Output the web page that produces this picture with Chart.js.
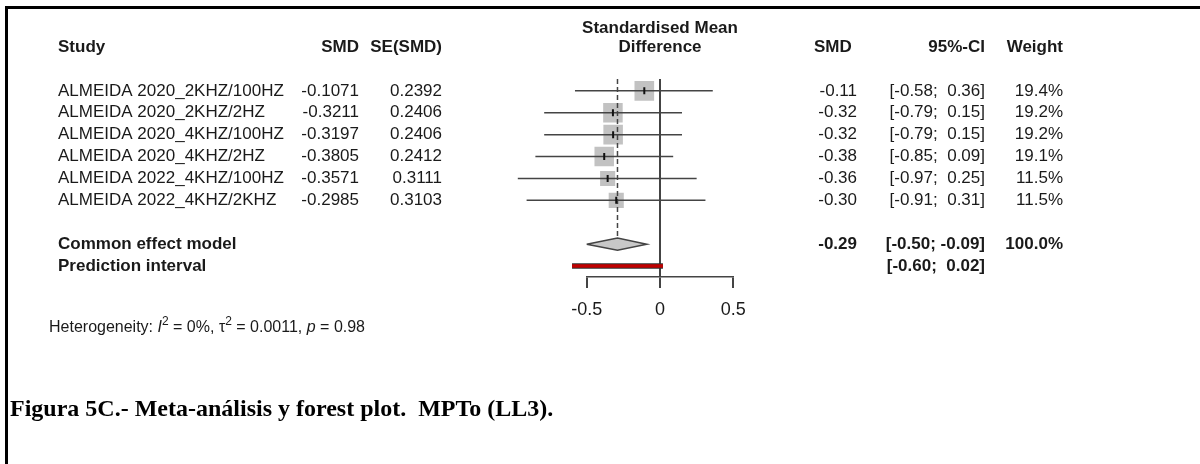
<!DOCTYPE html>
<html>
<head>
<meta charset="utf-8">
<script src="https://cdn.jsdelivr.net/npm/chart.js@4.4.1/dist/chart.umd.min.js"></script>
<style>
  body { margin: 0; background: #fff; }
  #frame { position: absolute; left: 5px; top: 6px; width: 1195px; height: 458px;
           border-top: 3px solid #000; border-left: 3px solid #000; box-sizing: border-box; }
  #wrap { position: absolute; left: 0; top: 0; width: 1200px; height: 464px; }
  #caption { position: absolute; left: 10px; top: 395px; white-space: pre;
             font: bold 24px "Liberation Serif", "Times New Roman", serif; color: #000; }
</style>
</head>
<body>
<div id="frame"></div>
<div id="wrap"><canvas id="forest"></canvas></div>
<div id="caption">Figura 5C.- Meta-análisis y forest plot.  MPTo (LL3).</div>
<script>
// study data
var studies = ["ALMEIDA 2020_2KHZ/100HZ", "ALMEIDA 2020_2KHZ/2HZ", "ALMEIDA 2020_4KHZ/100HZ",
               "ALMEIDA 2020_4KHZ/2HZ", "ALMEIDA 2022_4KHZ/100HZ", "ALMEIDA 2022_4KHZ/2KHZ"];
var smd = [-0.1071, -0.3211, -0.3197, -0.3805, -0.3571, -0.2985];
var seSmd = [0.2392, 0.2406, 0.2406, 0.2412, 0.3111, 0.3103];
var ciLower = [-0.58, -0.79, -0.79, -0.85, -0.97, -0.91];
var ciUpper = [0.36, 0.15, 0.15, 0.09, 0.25, 0.31];
var weights = [19.4, 19.2, 19.2, 19.1, 11.5, 11.5];

// pooled results
var commonEffect = [-0.29, -0.50, -0.09];   // estimate, lower, upper
var predInterval = [-0.60, 0.02];
var xTicks = [-0.5, 0, 0.5];

var nStudies = studies.length;
var commonRow = nStudies + 2;
var predRow = nStudies + 3;

var FONT = '"Liberation Sans", Arial, sans-serif';
var INK = '#1a1a1a';
var LINE = '#444';

function ciText(lo, hi) {
    return "[" + lo.toFixed(2) + ";" + (hi >= 0 ? "  " : " ") + hi.toFixed(2) + "]";
}

// draws the table columns beside the plot
var tablePlugin = {
    id: 'forestTable',
    afterDraw: function (chart) {
        var ctx = chart.ctx;
        var y = chart.scales.y;
        ctx.save();
        ctx.fillStyle = INK;
        ctx.textBaseline = 'middle';

        function put(txt, x, yy, align, bold, size) {
            ctx.font = (bold ? 'bold ' : '') + (size || 17) + 'px ' + FONT;
            ctx.textAlign = align;
            ctx.fillText(txt, x, yy);
        }

        // headers
        put("Study", 58, 47, 'left', true);
        put("SMD", 359, 47, 'right', true);
        put("SE(SMD)", 442, 47, 'right', true);
        put("Standardised Mean", 660, 28, 'center', true);
        put("Difference", 660, 47, 'center', true);
        put("SMD", 814, 47, 'left', true);
        put("95%-CI", 985, 47, 'right', true);
        put("Weight", 1063, 47, 'right', true);

        for (var i = 0; i < nStudies; i++) {
            var yy = y.getPixelForValue(i + 1);
            put(studies[i], 58, yy, 'left', false);
            put(smd[i].toFixed(4), 359, yy, 'right', false);
            put(seSmd[i].toFixed(4), 442, yy, 'right', false);
            put(smd[i].toFixed(2), 857, yy, 'right', false);
            put(ciText(ciLower[i], ciUpper[i]), 985, yy, 'right', false);
            put(weights[i].toFixed(1) + "%", 1063, yy, 'right', false);
        }

        var yc = y.getPixelForValue(commonRow);
        put("Common effect model", 58, yc, 'left', true);
        put(commonEffect[0].toFixed(2), 857, yc, 'right', true);
        put(ciText(commonEffect[1], commonEffect[2]), 985, yc, 'right', true);
        put("100.0%", 1063, yc, 'right', true);

        var yp = y.getPixelForValue(predRow);
        put("Prediction interval", 58, yp, 'left', true);
        put(ciText(predInterval[0], predInterval[1]), 985, yp, 'right', true);

        // heterogeneity line with italic and superscripts
        var parts = [
            ["Heterogeneity: ", "", 0], ["I", "italic ", 0], ["2", "", 1],
            [" = 0%, \u03c4", "", 0], ["2", "", 1], [" = 0.0011, ", "", 0],
            ["p", "italic ", 0], [" = 0.98", "", 0]
        ];
        var hx = 49, hy = 328;
        ctx.textAlign = 'left';
        parts.forEach(function (p) {
            var sup = p[2] === 1;
            ctx.font = p[1] + (sup ? 12 : 16) + 'px ' + FONT;
            ctx.fillText(p[0], hx, sup ? hy - 6 : hy);
            hx += ctx.measureText(p[0]).width;
        });
        ctx.restore();
    }
};

var datasets = [];

// confidence interval lines
studies.forEach(function (s, i) {
    datasets.push({
        data: [{x: ciLower[i], y: i + 1}, {x: ciUpper[i], y: i + 1}],
        showLine: true, borderColor: LINE, borderWidth: 1.5,
        pointRadius: 0, clip: false, order: 2
    });
});

// point estimate marks
datasets.push({
    data: smd.map(function (v, i) { return {x: v, y: i + 1}; }),
    pointStyle: 'line', rotation: 90, pointRadius: 3.5,
    borderColor: '#111', borderWidth: 2, order: 1
});

// weight squares
datasets.push({
    data: smd.map(function (v, i) { return {x: v, y: i + 1}; }),
    pointStyle: 'rect',
    pointRadius: weights.map(function (w) { return 3.15 * Math.sqrt(w); }),
    backgroundColor: '#c2c2c2', borderWidth: 0, order: 4
});

// dashed line at the pooled estimate
datasets.push({
    data: [{x: commonEffect[0], y: 0.46}, {x: commonEffect[0], y: commonRow - 0.28}],
    showLine: true, borderColor: LINE, borderWidth: 1.5, borderDash: [5, 3],
    pointRadius: 0, order: 3
});

// common effect diamond
datasets.push({
    data: [
        {x: commonEffect[1], y: commonRow}, {x: commonEffect[0], y: commonRow - 0.28},
        {x: commonEffect[2], y: commonRow}, {x: commonEffect[0], y: commonRow + 0.28},
        {x: commonEffect[1], y: commonRow}
    ],
    showLine: true, fill: 'shape', backgroundColor: '#c8c8c8',
    borderColor: LINE, borderWidth: 1.5, pointRadius: 0, clip: false, order: 2
});

// prediction interval bar (dark outline + red core)
datasets.push({
    data: [{x: predInterval[0], y: predRow}, {x: predInterval[1], y: predRow}],
    showLine: true, borderColor: '#333', borderWidth: 5.5, borderCapStyle: 'butt',
    pointRadius: 0, clip: false, order: 2
});
datasets.push({
    data: [{x: predInterval[0], y: predRow}, {x: predInterval[1], y: predRow}],
    showLine: true, borderColor: '#c00000', borderWidth: 3.5, borderCapStyle: 'butt',
    pointRadius: 0, clip: false, order: 1
});

var forestChart = new Chart(document.getElementById('forest'), {
    type: 'scatter',
    data: { datasets: datasets },
    options: {
        responsive: true,
        maintainAspectRatio: false,
        animation: false,
        layout: { padding: { left: 586.7, right: 466.7, top: 79, bottom: 147 } },
        plugins: { legend: { display: false }, tooltip: { enabled: false } },
        scales: {
            x: {
                type: 'linear',
                min: xTicks[0], max: xTicks[xTicks.length - 1],
                afterBuildTicks: function (scale) {
                    scale.ticks = xTicks.map(function (v) { return {value: v}; });
                },
                afterFit: function (scale) { scale.height = 40; },
                ticks: {
                    color: INK, padding: 11,
                    font: { family: FONT, size: 18 },
                    callback: function (v) { return String(v); }
                },
                grid: {
                    color: function (c) {
                        return c.tick && c.tick.value === 0 ? LINE : 'rgba(0,0,0,0)';
                    },
                    tickColor: LINE, tickLength: 11, lineWidth: 2
                },
                border: { display: true, color: LINE, width: 1.5 }
            },
            y: {
                type: 'linear', reverse: true, display: false,
                min: 0.46, max: 9.5
            }
        }
    },
    plugins: [tablePlugin]
});
</script>
</body>
</html>
